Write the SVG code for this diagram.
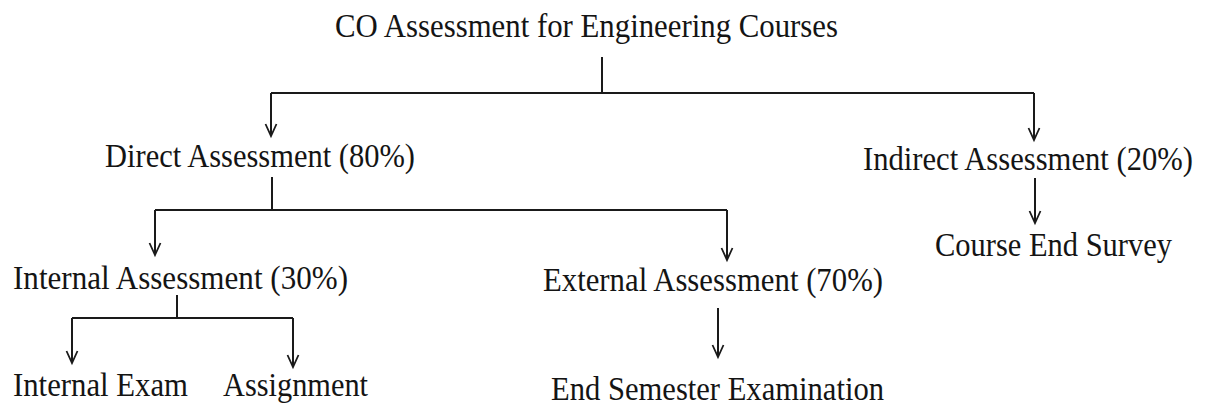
<svg xmlns="http://www.w3.org/2000/svg" width="1214" height="408" viewBox="0 0 1214 408">
<defs>
<style>
.t{font-family:"Liberation Serif","Times New Roman",serif;font-size:34px;fill:#141414;}
.c{fill:none;stroke:#1a1a1a;stroke-width:2;}
</style>
<marker id="arr" markerUnits="userSpaceOnUse" markerWidth="16" markerHeight="16" viewBox="-13 -8 16 16" refX="0" refY="0" orient="auto">
<path d="M -12 -5.5 L 0 0 L -12 5.5" fill="none" stroke="#1a1a1a" stroke-width="1.8"/>
</marker>
</defs>
<rect width="1214" height="408" fill="#ffffff"/>
<g id="connectors">
<path class="c" d="M 602 57 V 93"/>
<path class="c" d="M 271 93 H 1034"/>
<path class="c" d="M 271 93 V 136" marker-end="url(#arr)"/>
<path class="c" d="M 1034 93 V 140" marker-end="url(#arr)"/>
<path class="c" d="M 1035 178 V 223" marker-end="url(#arr)"/>
<path class="c" d="M 272 177 V 210"/>
<path class="c" d="M 155 210 H 727"/>
<path class="c" d="M 155 210 V 255" marker-end="url(#arr)"/>
<path class="c" d="M 727 210 V 260" marker-end="url(#arr)"/>
<path class="c" d="M 718 308 V 357" marker-end="url(#arr)"/>
<path class="c" d="M 177 295 V 318"/>
<path class="c" d="M 72 318 H 293"/>
<path class="c" d="M 72 318 V 363" marker-end="url(#arr)"/>
<path class="c" d="M 293 318 V 367" marker-end="url(#arr)"/>
</g>
<g id="root"><text class="t" x="335" y="37" textLength="503" lengthAdjust="spacingAndGlyphs">CO Assessment for Engineering Courses</text></g>
<g id="direct"><text class="t" x="105" y="167" textLength="310" lengthAdjust="spacingAndGlyphs">Direct Assessment (80%)</text></g>
<g id="indirect"><text class="t" x="863" y="170" textLength="330" lengthAdjust="spacingAndGlyphs">Indirect Assessment (20%)</text></g>
<g id="survey"><text class="t" x="935" y="256" textLength="237" lengthAdjust="spacingAndGlyphs">Course End Survey</text></g>
<g id="internal"><text class="t" x="13" y="289" textLength="335" lengthAdjust="spacingAndGlyphs">Internal Assessment (30%)</text></g>
<g id="external"><text class="t" x="543" y="291" textLength="340" lengthAdjust="spacingAndGlyphs">External Assessment (70%)</text></g>
<g id="exam"><text class="t" x="13" y="396" textLength="175" lengthAdjust="spacingAndGlyphs">Internal Exam</text></g>
<g id="assignment"><text class="t" x="223" y="396" textLength="145" lengthAdjust="spacingAndGlyphs">Assignment</text></g>
<g id="endsem"><text class="t" x="551" y="400" textLength="333" lengthAdjust="spacingAndGlyphs">End Semester Examination</text></g>
</svg>
